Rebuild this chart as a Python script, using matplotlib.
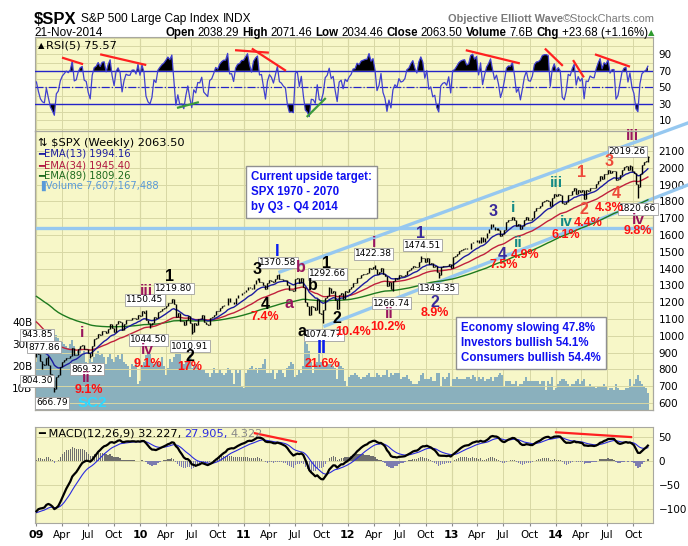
import numpy as np
import pandas as pd
import matplotlib
matplotlib.use('Agg')
import matplotlib.pyplot as plt
from matplotlib.ticker import MultipleLocator

# ---- weekly closes of $SPX (2008 only warms up the indicators) ----
close_2008 = [1411.63, 1401.02, 1325.19, 1330.61,
              1395.42, 1331.29, 1349.99, 1353.11, 1330.63,
              1293.37, 1288.14, 1329.51, 1315.22,
              1370.40, 1332.83, 1390.33, 1397.84,
              1413.90, 1388.28, 1425.35, 1375.93, 1400.38,
              1360.68, 1360.03, 1317.93, 1278.38,
              1262.90, 1239.49, 1260.68, 1257.76,
              1260.31, 1296.32, 1298.20, 1292.20, 1282.83,
              1242.31, 1251.70, 1255.08, 1213.27,
              1099.23, 899.22, 940.55, 876.77, 968.75,
              930.99, 873.29, 800.03, 896.24,
              876.07, 879.73, 887.88, 872.80]
close_2009 = [931.80, 890.35, 850.12, 831.95, 825.88,
              868.60, 826.84, 770.05, 735.09,
              683.38, 756.55, 768.54, 815.94,
              842.50, 856.56, 869.60, 866.23,
              877.52, 929.23, 882.88, 887.00, 919.14,
              940.09, 946.21, 921.23, 918.90,
              896.42, 879.13, 940.38, 979.26, 987.48,
              1010.48, 1004.09, 1026.13, 1028.93,
              1016.40, 1042.73, 1068.30, 1044.38,
              1025.21, 1071.49, 1087.68, 1079.60, 1036.19,
              1069.30, 1093.48, 1091.38, 1091.49,
              1105.98, 1106.41, 1102.47, 1126.48, 1115.10]
close_2010 = [1144.98, 1136.03, 1091.76, 1073.87,
              1066.19, 1075.51, 1109.17, 1104.49,
              1138.70, 1149.99, 1159.90, 1166.59,
              1178.10, 1194.37, 1192.13, 1217.28, 1186.69,
              1110.88, 1135.68, 1087.69, 1089.41,
              1064.88, 1091.60, 1117.51, 1076.76,
              1022.58, 1077.96, 1064.88, 1102.66, 1101.60,
              1121.64, 1079.25, 1071.69, 1064.59,
              1104.51, 1109.55, 1125.59, 1148.67,
              1146.24, 1165.15, 1176.19, 1183.08, 1183.26,
              1225.85, 1199.21, 1199.73, 1189.40,
              1224.71, 1240.40, 1243.91, 1256.77, 1257.64]
close_2011 = [1271.50, 1293.24, 1283.35, 1276.34,
              1310.87, 1329.15, 1343.01, 1319.88,
              1321.15, 1304.28, 1279.20, 1313.80,
              1332.41, 1328.17, 1319.68, 1337.38, 1363.61,
              1340.20, 1337.77, 1333.27, 1331.10,
              1300.16, 1270.98, 1271.50, 1268.45,
              1339.67, 1343.80, 1316.14, 1345.02, 1292.28,
              1199.38, 1178.81, 1123.53, 1176.80,
              1173.97, 1154.23, 1216.01, 1136.43, 1131.42,
              1155.46, 1224.58, 1238.25, 1285.09,
              1253.23, 1263.85, 1215.65, 1158.67,
              1244.28, 1255.19, 1219.66, 1265.33, 1257.60]
close_2012 = [1277.81, 1289.09, 1315.38, 1316.33,
              1344.90, 1342.64, 1361.23, 1365.74,
              1369.63, 1370.87, 1404.17, 1397.11, 1408.47,
              1398.08, 1370.26, 1378.53, 1403.36,
              1369.10, 1353.39, 1295.22, 1317.82,
              1278.04, 1325.66, 1342.84, 1335.02, 1362.16,
              1354.68, 1356.78, 1362.66, 1385.97,
              1390.99, 1405.87, 1418.16, 1411.13, 1406.58,
              1437.92, 1465.77, 1460.15, 1440.67,
              1460.93, 1428.59, 1433.19, 1411.94,
              1414.20, 1379.85, 1359.88, 1409.15, 1416.18,
              1418.07, 1413.58, 1430.15, 1402.43]
close_2013 = [1466.47, 1472.05, 1485.98, 1502.96,
              1513.17, 1517.93, 1519.79, 1515.60,
              1518.20, 1551.18, 1560.70, 1556.89, 1569.19,
              1553.28, 1588.85, 1555.25, 1582.24,
              1614.42, 1633.70, 1667.47, 1649.60, 1630.74,
              1643.38, 1626.73, 1592.43, 1606.28,
              1631.89, 1680.19, 1692.09, 1691.65,
              1709.67, 1691.42, 1655.83, 1663.50, 1632.97,
              1655.17, 1687.99, 1709.91, 1691.75,
              1690.50, 1703.20, 1744.50, 1759.77,
              1761.64, 1770.61, 1798.18, 1804.76, 1805.81,
              1805.09, 1775.32, 1818.32, 1841.40]
close_2014 = [1831.37, 1842.37, 1838.70, 1790.29, 1782.59,
              1797.02, 1838.63, 1836.25, 1859.45,
              1878.04, 1841.13, 1866.52, 1857.62,
              1865.09, 1815.69, 1864.85, 1863.40,
              1881.14, 1878.48, 1877.86, 1900.53, 1923.57,
              1949.44, 1936.16, 1962.87, 1960.96,
              1985.44, 1967.57, 1978.22, 1978.34,
              1925.15, 1931.59, 1955.06, 1988.40, 2003.37,
              2007.71, 1985.54, 2010.40, 1982.85,
              1967.90, 1906.13, 1886.76, 1964.58, 2018.05,
              2031.92, 2039.82, 2063.50]

# weekly volume, billions of shares
vol_2009 = [22, 27, 29, 28, 27, 26, 30, 31, 33, 35, 34, 33, 30, 31, 30, 29, 28,
            30, 32, 29, 26, 27, 28, 25, 27, 22, 21, 23, 22, 24, 26, 27, 25, 26, 24,
            21, 24, 26, 23, 22, 24, 25, 23, 26, 22, 21, 20, 15, 21, 20, 23, 12, 13]
vol_2010 = [20, 22, 25, 26, 26, 22, 21, 22, 22, 21, 24, 20, 16, 19, 23, 22, 24,
            29, 27, 28, 22, 21, 22, 23, 25, 19, 20, 21, 19, 18, 18, 18, 17, 17,
            15, 17, 19, 17, 17, 18, 17, 16, 17, 19, 18, 17, 12, 18, 17, 18, 11, 10]
vol_2011 = [17, 18, 19, 20, 18, 19, 17, 19, 19, 21, 23, 17, 17, 17, 18, 14, 17,
            18, 18, 17, 15, 19, 20, 22, 21, 15, 16, 18, 17, 20, 31, 30, 27, 22,
            17, 21, 22, 26, 22, 22, 20, 21, 21, 21, 20, 19, 14, 22, 20, 19, 13, 11]
vol_2012 = [15, 16, 16, 17, 16, 15, 14, 15, 15, 16, 17, 15, 15, 15, 17, 16, 15,
            16, 16, 18, 15, 17, 16, 17, 17, 17, 14, 15, 15, 16, 14, 13, 12, 12, 12,
            13, 16, 17, 14, 14, 14, 15, 13, 13, 17, 17, 11, 15, 14, 15, 17, 11]
vol_2013 = [14, 14, 15, 14, 14, 14, 14, 15, 15, 14, 16, 15, 13, 15, 14, 15, 13,
            14, 14, 15, 13, 15, 15, 16, 17, 16, 11, 13, 13, 13, 12, 12, 13, 11, 12,
            12, 13, 15, 13, 13, 13, 13, 13, 13, 12, 13, 13, 9, 13, 12, 15, 9]
vol_2014 = [10, 12, 13, 14, 14, 13, 12, 11, 12, 12, 13, 14, 12, 13, 14, 11, 11,
            12, 11, 11, 10, 11, 11, 11, 12, 11, 9, 10, 10, 9, 12, 10, 9, 9, 9,
            10, 10, 14, 11, 12, 14, 16, 13, 12, 11, 10, 7.6]

# labelled weekly extremes (week ending date -> price)
high_marks = {'2009-01-09': 943.85, '2009-02-13': 877.86, '2010-01-22': 1150.45,
              '2010-04-30': 1219.80, '2011-05-06': 1370.58, '2011-10-28': 1292.66,
              '2012-04-06': 1422.38, '2012-09-14': 1474.51, '2014-09-19': 2019.26,
              '2014-11-21': 2071.46}
low_marks = {'2009-01-23': 804.30, '2009-03-06': 666.79, '2009-07-10': 869.32,
             '2010-02-05': 1044.50, '2010-07-02': 1010.91, '2011-10-07': 1074.77,
             '2012-06-08': 1266.74, '2012-11-16': 1343.35, '2014-10-17': 1820.66,
             '2014-11-21': 2034.46}

# ---- indicators ----
closes = close_2008 + close_2009 + close_2010 + close_2011 + close_2012 + close_2013 + close_2014
all_dates = pd.date_range('2008-01-04', periods=len(closes), freq='W-FRI')
s = pd.Series(closes, index=all_dates)
ema13 = s.ewm(span=13, adjust=False).mean()
ema34 = s.ewm(span=34, adjust=False).mean()
ema89 = s.ewm(span=89, adjust=False).mean()
delta = s.diff()
gain = delta.clip(lower=0).ewm(alpha=1/5, adjust=False).mean()
loss = (-delta.clip(upper=0)).ewm(alpha=1/5, adjust=False).mean()
rsi = 100 - 100 / (1 + gain / loss)
macd = s.ewm(span=12, adjust=False).mean() - s.ewm(span=26, adjust=False).mean()
signal = macd.ewm(span=9, adjust=False).mean()
hist = macd - signal

n0 = len(close_2008)
dates = all_dates[n0:]
c = s.values[n0:]
prev = s.values[n0 - 1:-1]
highs = np.maximum(prev, c)
lows = np.minimum(prev, c)
for d, v in high_marks.items():
    i = dates.get_loc(pd.Timestamp(d))
    highs[i] = max(highs[i], v)
for d, v in low_marks.items():
    i = dates.get_loc(pd.Timestamp(d))
    lows[i] = min(lows[i], v)
volume = np.array(vol_2009 + vol_2010 + vol_2011 + vol_2012 + vol_2013 + vol_2014)

# ---- figure ----
W, H = 688, 546
fig = plt.figure(figsize=(W / 100, H / 100), dpi=100)
renderer = fig.canvas.get_renderer()
BG = '#F7F7C8'
GRID = '#D8D8A4'
YEARGRID = '#BDBD86'
EDGE = '#A8A8A0'


def panel(top, bottom):
    return fig.add_axes([35 / W, 1 - bottom / H, 618 / W, (bottom - top) / H])


def fx(x):
    return x / W


def fy(y):
    return 1 - y / H


def text_row(x, y, pieces, gap=4, right=None, size=8.5, family='Liberation Sans'):
    # lay pieces side by side; optionally squeeze to end at `right`
    def props(kw, sz):
        p = {'fontsize': sz, 'family': family}
        p.update(kw)
        return p

    def widths(sz):
        out = []
        for txt, kw in pieces:
            t = fig.text(0, 0, txt, **props(kw, sz))
            out.append(t.get_window_extent(renderer).width)
            t.remove()
        return out
    ws = widths(size)
    if right is not None:
        total = sum(ws) + gap * (len(ws) - 1)
        size = size * min(1.0, (right - x) / total)
        ws = widths(size)
    for (txt, kw), w in zip(pieces, ws):
        fig.text(fx(x), fy(y), txt, va='center', **props(kw, size))
        x += w + gap


ax_rsi = panel(37, 131)
ax_vol = panel(131, 410)
ax = ax_vol.twinx()
ax_macd = panel(427, 523)

x0, x1 = pd.Timestamp('2008-12-28'), pd.Timestamp('2014-12-09')
quarters = pd.date_range('2009-01-01', '2014-10-01', freq='QS')
years = [q for q in quarters if q.month == 1]
qlabels = [q.strftime('%y') if q.month == 1 else q.strftime('%b') for q in quarters]

for a in (ax_rsi, ax_vol, ax_macd):
    a.set_facecolor(BG)
for a in (ax_rsi, ax_vol, ax, ax_macd):
    a.set_xlim(x0, x1)
    for sp in a.spines.values():
        sp.set_color(EDGE)
        sp.set_linewidth(0.8)
    a.tick_params(labelsize=7.5, length=0, pad=4)
for a in (ax_rsi, ax_vol, ax_macd):
    a.set_xticks(quarters)
    a.grid(axis='x', color=GRID, lw=0.7, zorder=0)
    for y in years:
        a.axvline(y, color=YEARGRID, lw=0.8, zorder=0)
    a.set_axisbelow(True)

# ---- RSI panel ----
ax_rsi.set_ylim(-3, 111)
ax_rsi.yaxis.tick_right()
ax_rsi.set_yticks([10, 30, 50, 70, 90])
ax_rsi.yaxis.set_minor_locator(MultipleLocator(10))
ax_rsi.grid(axis='y', which='both', color=GRID, lw=0.7)
ax_rsi.tick_params(axis='y', which='minor', length=0)
ax_rsi.tick_params(labelbottom=False)
r = rsi.values[n0:]
ax_rsi.fill_between(dates, 70, r, where=r > 70, interpolate=True, color='black', lw=0, zorder=2)
ax_rsi.fill_between(dates, 30, r, where=r < 30, interpolate=True, color='black', lw=0, zorder=2)
ax_rsi.axhline(70, color='#2424C8', lw=1.0, zorder=3)
ax_rsi.axhline(30, color='#2424C8', lw=1.0, zorder=3)
ax_rsi.axhline(50, color='#2424C8', lw=0.9, ls='-.', zorder=3)
ax_rsi.plot(dates, r, color='#4040D0', lw=0.9, zorder=4)

rsi_trend = [('2009-04-02', 86, '2009-06-15', 78, '#FF2020'),
             ('2009-08-14', 90, '2010-01-23', 77, '#FF2020'),
             ('2010-05-11', 25, '2010-07-27', 32, '#3C9A3C'),
             ('2010-12-01', 95, '2011-03-30', 92, '#FF2020'),
             ('2011-01-29', 97, '2011-05-29', 70, '#FF2020'),
             ('2011-08-10', 14, '2011-10-16', 37, '#3C9A3C'),
             ('2013-02-19', 95, '2013-08-28', 79, '#FF2020'),
             ('2013-11-24', 97, '2014-01-26', 76, '#FF2020'),
             ('2014-03-03', 83, '2014-04-10', 62, '#FF2020'),
             ('2014-05-19', 90, '2014-09-19', 75, '#FF2020')]
for d0, v0, d1, v1, col in rsi_trend:
    ax_rsi.plot([pd.Timestamp(d0), pd.Timestamp(d1)], [v0, v1], color=col, lw=1.6,
                zorder=5, solid_capstyle='butt')
text_row(38, 46, [('\u25b2', dict(fontsize=6)), ('RSI(5) 75.57', {})], gap=2, size=8.2,
         family='DejaVu Sans')

# ---- price + volume panel ----
VMAX = 127
ax_vol.set_ylim(0, VMAX)
ax_vol.yaxis.tick_left()
ax_vol.set_yticks([10, 20, 30, 40])
ax_vol.set_yticklabels(['10B', '20B', '30B', '40B'])
ax_vol.tick_params(axis='y', pad=2)
ax_vol.tick_params(labelbottom=False)
ax_vol.bar(dates, volume, width=7.0, color='#8AB0BD', lw=0, zorder=1)

ax.set_zorder(ax_vol.get_zorder() + 1)
ax.patch.set_visible(False)
ax.set_ylim(558, 2219)
ax.yaxis.tick_right()
ax.set_yticks(range(600, 2101, 100))
ax.grid(axis='y', color=GRID, lw=0.7)
ax.set_xticks(quarters)
ax.set_xticklabels(qlabels)
ax.tick_params(axis='x', labelbottom=True, length=0, pad=3)
for lab in ax.get_xticklabels():
    if lab.get_text().isdigit():
        lab.set_fontweight('bold')
        lab.set_fontsize(8)

ax.plot(dates, ema89.values[n0:], color='#1E7A1E', lw=1.0, zorder=3)
ax.plot(dates, ema34.values[n0:], color='#C0203C', lw=1.0, zorder=3)
ax.plot(dates, ema13.values[n0:], color='#1C1CA0', lw=1.0, zorder=3)
ax.vlines(dates, lows, highs, colors='black', lw=1.0, zorder=5)
ax.hlines(c, dates, dates + pd.Timedelta(days=3), colors='black', lw=0.8, zorder=5)

# trend lines (date, price)
LB = '#96C8F0'
ax.axhline(1642, color=LB, lw=2.4, zorder=2)
ax.plot([pd.Timestamp('2011-05-08'), pd.Timestamp('2015-04-11')], [1380, 2267],
        color=LB, lw=2.4, zorder=2, clip_on=False)
ax.plot([pd.Timestamp('2011-10-13'), pd.Timestamp('2015-04-11')], [1058, 1898],
        color=LB, lw=2.4, zorder=2, clip_on=False)

price_boxes = [('943.85', '2009-01-05', 1005), ('877.86', '2009-01-29', 933),
               ('804.30', '2009-01-05', 731), ('666.79', '2009-02-26', 600),
               ('869.32', '2009-06-28', 802), ('1150.45', '2010-01-18', 1213),
               ('1044.50', '2010-02-01', 975), ('1219.80', '2010-04-30', 1279),
               ('1010.91', '2010-06-25', 939), ('1370.58', '2011-05-01', 1436),
               ('1292.66', '2011-10-23', 1368), ('1074.77', '2011-10-09', 1005),
               ('1422.38', '2012-04-02', 1487), ('1266.74', '2012-06-04', 1195),
               ('1474.51', '2012-09-20', 1540), ('1343.35', '2012-11-13', 1283),
               ('2019.26', '2014-09-10', 2096), ('1820.66', '2014-10-17', 1755)]
for txt, d, p in price_boxes:
    ax.text(pd.Timestamp(d), p, txt, ha='center', va='center', fontsize=6.5,
            family='DejaVu Sans', zorder=7,
            bbox=dict(boxstyle='square,pad=0.12', fc='white', ec='#A0A0A0', lw=0.6))

PURPLE, BLUE, NAVY, TEAL, ORANGE, RED = '#99155E', '#0A1EF0', '#3A2A9A', '#148A86', '#EE4A3A', '#FF1010'
waves = [('i', '2009-06-11', 1017, PURPLE, 11), ('ii', '2009-06-25', 748, PURPLE, 11),
         ('9.1%', '2009-07-05', 680, RED, 9), ('SC2', '2009-07-19', 600, '#30D8FF', 11),
         ('iii', '2010-01-25', 1267, PURPLE, 11), ('iv', '2010-01-25', 915, PURPLE, 11),
         ('9.1%', '2010-01-29', 832, RED, 9), ('1', '2010-04-16', 1350, 'black', 11.5),
         ('2', '2010-06-25', 878, 'black', 11.5), ('17%', '2010-06-25', 812, RED, 9),
         ('3', '2011-02-16', 1392, 'black', 11.5), ('I', '2011-04-27', 1499, BLUE, 12),
         ('b', '2011-07-20', 1406, PURPLE, 11.5), ('4', '2011-03-16', 1186, 'black', 11.5),
         ('7.4%', '2011-03-16', 1110, RED, 9), ('a', '2011-06-08', 1195, PURPLE, 11.5),
         ('1', '2011-10-20', 1433, 'black', 11.5), ('b', '2011-09-01', 1302, 'black', 11.5),
         ('a', '2011-07-24', 1023, 'black', 11.5), ('2', '2011-11-24', 1100, 'black', 11.5),
         ('10.4%', '2012-01-20', 1023, RED, 9), ('II', '2011-10-02', 927, BLUE, 13),
         ('21.6%', '2011-10-05', 832, RED, 9), ('i', '2012-04-02', 1552, PURPLE, 11),
         ('ii', '2012-05-25', 1130, PURPLE, 11), ('10.2%', '2012-05-21', 1052, RED, 9),
         ('1', '2012-09-14', 1606, NAVY, 11.5), ('2', '2012-11-02', 1200, NAVY, 11.5),
         ('8.9%', '2012-11-02', 1138, RED, 9), ('3', '2013-05-25', 1737, NAVY, 11.5),
         ('4', '2013-06-26', 1485, NAVY, 11.5), ('7.5%', '2013-07-03', 1419, RED, 9),
         ('i', '2013-08-04', 1761, TEAL, 11), ('ii', '2013-08-21', 1552, TEAL, 11),
         ('4.9%', '2013-09-15', 1481, RED, 9), ('iii', '2014-01-02', 1909, TEAL, 11),
         ('iv', '2014-02-09', 1677, TEAL, 11), ('6.1%', '2014-02-06', 1600, RED, 9),
         ('1', '2014-04-03', 1969, ORANGE, 11.5), ('2', '2014-04-10', 1749, ORANGE, 11.5),
         ('4.4%', '2014-04-24', 1671, RED, 9), ('3', '2014-07-07', 2040, ORANGE, 11.5),
         ('iii', '2014-09-26', 2189, PURPLE, 11), ('4', '2014-08-01', 1844, ORANGE, 11.5),
         ('4.3%', '2014-07-07', 1761, RED, 9), ('iv', '2014-10-17', 1689, PURPLE, 11),
         ('9.8%', '2014-10-17', 1624, RED, 9)]
for txt, d, p, col, size in waves:
    ax.text(pd.Timestamp(d), p, txt, ha='center', va='center', fontsize=size,
            color=col, fontweight='bold', family='Liberation Sans', zorder=8)

# legend of the price panel
fig.text(fx(38), fy(143), '\u21c5 $SPX (Weekly) 2063.50', fontsize=8.2, va='center',
         family='DejaVu Sans')
leg = [('\u2501EMA(13) 1994.16', '#1C1CA0', 154),
       ('\u2501EMA(34) 1945.40', '#B01840', 165),
       ('\u2501EMA(89) 1809.26', '#1E6A1E', 176),
       ('\u2590Volume 7,607,167,488', '#5A9AD8', 186)]
for txt, col, y in leg:
    fig.text(fx(38), fy(y), txt, color=col, fontsize=7.2, va='center', family='DejaVu Sans')

box_style = dict(boxstyle='square,pad=0.45', fc='white', ec='#909090', lw=1.0)
fig.text(fx(251), fy(192), 'Current upside target:\nSPX 1970 - 2070\nby Q3 - Q4 2014',
         color='#1010F0', fontsize=8.3, fontweight='bold', va='center', ha='left',
         family='Liberation Sans', linespacing=1.3, bbox=box_style)
fig.text(fx(461), fy(343), 'Economy slowing 47.8%\nInvestors bullish 54.1%\nConsumers bullish 54.4%',
         color='#1010F0', fontsize=8.3, fontweight='bold', va='center', ha='left',
         family='Liberation Sans', linespacing=1.3, bbox=box_style)

# ---- MACD panel ----
ax_macd.set_ylim(-129, 71)
ax_macd.yaxis.tick_right()
ax_macd.set_yticks([50, 0, -50, -100])
ax_macd.grid(axis='y', color=GRID, lw=0.7)
ax_macd.set_xticklabels(qlabels)
ax_macd.tick_params(axis='x', length=2, pad=3, color='#888888')
for lab in ax_macd.get_xticklabels():
    if lab.get_text().isdigit():
        lab.set_fontweight('bold')
        lab.set_fontsize(8)
h = hist.values[n0:]
ax_macd.bar(dates, h, width=4.5, color=np.where(h >= 0, '#6E6E6E', '#7C7CB0'), lw=0, zorder=2)
ax_macd.plot(dates, signal.values[n0:], color='#2A2AE0', lw=0.8, zorder=3)
ax_macd.plot(dates, macd.values[n0:], color='black', lw=1.6, zorder=4)
for d0, v0, d1, v1 in [('2011-02-09', 58, '2011-07-03', 40), ('2014-01-02', 60, '2014-09-23', 50)]:
    ax_macd.plot([pd.Timestamp(d0), pd.Timestamp(d1)], [v0, v1], color='#FF2020', lw=1.6, zorder=5)
text_row(38, 434, [('\u2501 MACD(12,26,9) 32.227,', {}),
                   ('27.905,', dict(color='#2A2AE0')),
                   ('4.322', dict(color='#888888'))], gap=3, size=8.2, family='DejaVu Sans')

# ---- header ----
text_row(34, 19, [('$SPX', dict(fontsize=12, fontweight='bold')),
                  ('S&P 500 Large Cap Index', {}), ('INDX', {})], gap=4, size=8.6)
text_row(448, 19, [('Objective Elliott Wave', dict(fontweight='bold', color='#7A7A7A')),
                   ('\u00a9StockCharts.com', dict(color='#7A7A7A'))], gap=0, right=656, size=8.8)
fig.text(fx(34), fy(33), '21-Nov-2014', fontsize=8.5, va='center', family='Liberation Sans')
B = dict(fontweight='bold')
text_row(165, 33, [('Open', B), ('2038.29', {}), ('High', B), ('2071.46', {}),
                   ('Low', B), ('2034.46', {}), ('Close', B), ('2063.50', {}),
                   ('Volume', B), ('7.6B', {}), ('Chg', B), ('+23.68 (+1.16%)', {})],
         gap=3, right=645, size=8.8)
fig.text(fx(648), fy(33), '\u25b2', fontsize=6, va='center', color='#2E9A2E')

fig.savefig('out.png', dpi=100, facecolor='white')
